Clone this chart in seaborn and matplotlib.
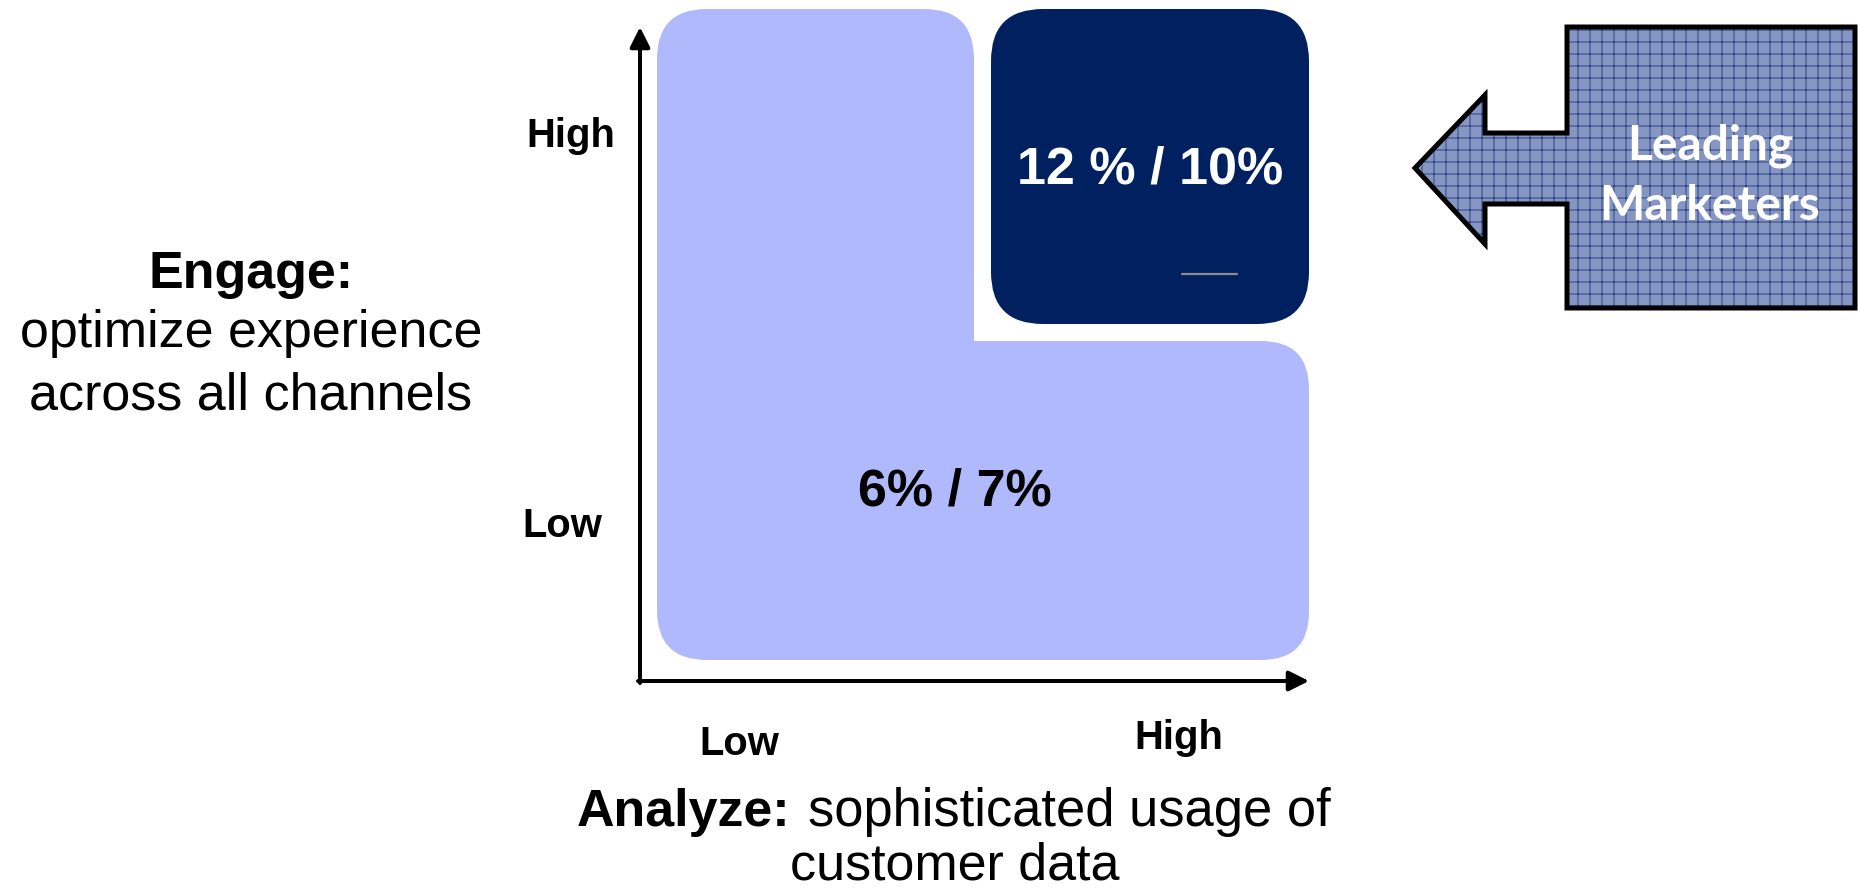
import matplotlib
matplotlib.use("Agg")
import matplotlib.pyplot as plt
import seaborn as sns
from matplotlib.patches import FancyBboxPatch, Polygon

# ---- data ----
levels = ["Low", "High"]
cell_labels = ["12 % / 10%", "6% / 7%"]
y_title_bold = "Engage:"
y_title_rest = ["optimize experience", "across all channels"]
x_title_bold = "Analyze:"
x_title_rest = ["sophisticated usage of", "customer data"]
callout = ["Leading", "Marketers"]

sns.set_theme(style="white")
plt.rcParams["font.family"] = ["Liberation Sans", "DejaVu Sans"]
plt.rcParams["text.color"] = "black"
plt.rcParams["hatch.linewidth"] = 0.8

W, H, DPI = 1858, 890, 72
fig = plt.figure(figsize=(W / DPI, H / DPI), dpi=DPI)
ax = fig.add_axes([0, 0, 1, 1])
ax.set_xlim(0, W)
ax.set_ylim(H, 0)
ax.axis("off")

LIGHT = "#AFB9FC"
DARK = "#00205F"

def rbox(x0, y0, x1, y1, color, r=50, z=1):
    p = FancyBboxPatch((x0, y0), x1 - x0, y1 - y0,
                       boxstyle=f"round,pad=0,rounding_size={r}",
                       facecolor=color, edgecolor="none", zorder=z)
    ax.add_patch(p)

# matrix cells
rbox(657, 9, 974, 660, LIGHT, r=50)
rbox(882, 341, 1309, 660, LIGHT, r=48)
rbox(991, 9, 1309, 324, DARK, r=52)
ax.plot([1182, 1237], [274, 274], color="#8C8C8C", lw=2.2, zorder=3)

ax.text(1150, 184, cell_labels[0], color="white", fontsize=52,
        fontweight="bold", ha="center", va="baseline", zorder=4)
ax.text(955, 505, cell_labels[1], color="black", fontsize=52,
        fontweight="bold", ha="center", va="baseline", zorder=4)

# axes arrows
ap = dict(arrowstyle="-|>", lw=4, color="black", mutation_scale=42,
          shrinkA=0, shrinkB=0)
ax.annotate("", xy=(640, 27), xytext=(640, 683), arrowprops=ap)
ax.annotate("", xy=(1309, 681), xytext=(638, 681), arrowprops=ap)

# tick labels
ax.text(571, 147, levels[1], fontsize=40, fontweight="bold", ha="center", va="baseline")
ax.text(562, 537, levels[0], fontsize=40, fontweight="bold", ha="center", va="baseline")
ax.text(739, 755, levels[0], fontsize=40, fontweight="bold", ha="center", va="baseline")
ax.text(1179, 749, levels[1], fontsize=40, fontweight="bold", ha="center", va="baseline")

# axis titles
ax.text(251, 288, y_title_bold, fontsize=52, fontweight="bold", ha="center", va="baseline")
ax.text(251, 347, y_title_rest[0], fontsize=52, ha="center", va="baseline")
ax.text(251, 410, y_title_rest[1], fontsize=52, ha="center", va="baseline")

ax.text(577, 826, x_title_bold, fontsize=52, fontweight="bold", ha="left", va="baseline")
ax.text(808, 826, x_title_rest[0], fontsize=52.5, ha="left", va="baseline")
ax.text(955, 879, x_title_rest[1], fontsize=52, ha="center", va="baseline")

# callout arrow
pts = [(1567, 27), (1855, 27), (1855, 308), (1567, 308), (1567, 204),
       (1485, 204), (1485, 244), (1415, 168), (1485, 95), (1485, 133),
       (1567, 133)]
ax.add_patch(Polygon(pts, closed=True, facecolor="#8696C2", edgecolor="#1A3078",
                     hatch="+", lw=0, zorder=2))
ax.add_patch(Polygon(pts, closed=True, facecolor="none", edgecolor="black",
                     lw=5, joinstyle="miter", zorder=3))
ax.text(1710, 159, callout[0], color="white", fontsize=48, fontweight="bold",
        family=["Lato", "DejaVu Sans"], ha="center", va="baseline", zorder=4)
ax.text(1710, 220, callout[1], color="white", fontsize=48, fontweight="bold",
        family=["Lato", "DejaVu Sans"], ha="center", va="baseline", zorder=4)

fig.savefig("out.png", dpi=DPI)
